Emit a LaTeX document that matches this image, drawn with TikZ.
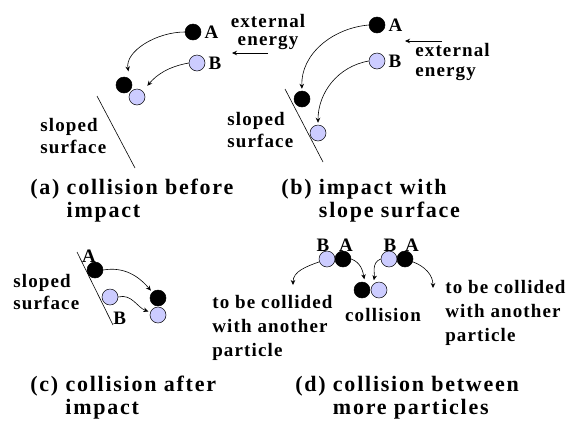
\documentclass[tikz,border=0pt]{standalone}
\usepackage{fontspec}
\setmainfont{Liberation Serif}[LetterSpace=8]
\newfontfamily\lblfont{Liberation Serif}[LetterSpace=6]
\usetikzlibrary{arrows.meta}
\definecolor{ballblue}{RGB}{204,204,255}

\begin{document}
\begin{tikzpicture}[x=1pt, y=1pt, line width=0.6pt,
  ball/.style={circle, draw=black, line width=0.5pt, inner sep=0pt, minimum size=16pt},
  ballA/.style={ball, fill=black},
  ballB/.style={ball, fill=ballblue},
  lbl/.style={font=\lblfont\fontsize{19}{22}\selectfont\bfseries, inner sep=0pt},
  captxt/.style={font=\fontsize{22}{23}\selectfont\bfseries, inner sep=0pt, anchor=base west},
  mv/.style={-{Stealth[length=5pt,width=4.5pt]}, shorten >=2pt},
]
  \useasboundingbox (0,0) rectangle (569,-421);

  % (a) 碰撞前
  \node[ballA] (a-A)  at (193,-32) {};
  \node[ballB] (a-B)  at (197,-63) {};
  \node[ballA] (a-A2) at (124,-85) {};
  \node[ballB] (a-B2) at (137,-97) {};
  \node[lbl, anchor=west] (a-lA) at ([xshift=3pt]a-A.east) {A};
  \node[lbl, anchor=west] (a-lB) at ([xshift=3pt]a-B.east) {B};
  \coordinate (a-s1) at (97,-96);
  \coordinate (a-s2) at (135,-168);
  \draw (a-s1) -- (a-s2);
  \node[lbl, align=left, anchor=west] (a-sl) at (40,-136.5) {sloped\\surface};
  \node[lbl, align=center] (a-ext) at (268,-32) {external\\[-4pt]energy};
  \coordinate (a-e1) at (268,-53);
  \coordinate (a-e2) at (232,-53);
  \draw[mv, shorten >=0pt] (a-e1) -- (a-e2);
  \draw[mv, shorten >=8pt] (a-A.west) to[out=180, in=100] (a-A2.north east);
  \draw[mv, shorten >=7pt] (a-B.west) to[out=190, in=50] (a-B2.north east);
  \node[captxt] (a-cap) at (30,-194)
    {(a) \begin{tabular}[t]{@{}l@{}}collision before\\impact\end{tabular}};

  % (b) 撞击斜面
  \node[ballA] (b-A)  at (377,-25) {};
  \node[ballB] (b-B)  at (377,-61) {};
  \node[ballA] (b-A2) at (302,-99) {};
  \node[ballB] (b-B2) at (318,-133) {};
  \node[lbl, anchor=west] (b-lA) at ([xshift=3pt]b-A.east) {A};
  \node[lbl, anchor=west] (b-lB) at ([xshift=3pt]b-B.east) {B};
  \coordinate (b-s1) at (285,-89);
  \coordinate (b-s2) at (323,-162);
  \draw (b-s1) -- (b-s2);
  \node[lbl, align=left, anchor=west] (b-sl) at (227,-130) {sloped\\surface};
  \node[lbl, align=left, anchor=west] (b-ext) at (415,-62) {external\\[-2pt]energy};
  \coordinate (b-e1) at (442,-41);
  \coordinate (b-e2) at (405,-41);
  \draw[mv, shorten >=0pt] (b-e1) -- (b-e2);
  \draw[mv] (b-A.west) to[out=185, in=92] (b-A2.north);
  \draw[mv] (b-B.west) to[out=190, in=90] (b-B2.north);
  \node[captxt] (b-cap) at (281,-194)
    {(b) \begin{tabular}[t]{@{}l@{}}impact with\\slope surface\end{tabular}};

  % (c) 撞击后碰撞
  \node[ballA] (c-A)  at (95,-270) {};
  \node[ballB] (c-B)  at (110,-297) {};
  \node[ballA] (c-A2) at (158,-298) {};
  \node[ballB] (c-B2) at (158,-315) {};
  \node[lbl, anchor=south] (c-lA) at ([xshift=-6pt,yshift=-1pt]c-A.north) {A};
  \node[lbl, anchor=west] (c-lB) at (113,-318) {B};
  \coordinate (c-s1) at (77,-252);
  \coordinate (c-s2) at (113,-325);
  \draw (c-s1) -- (c-s2);
  \node[lbl, align=left, anchor=west] (c-sl) at (13,-292.5) {sloped\\surface};
  \draw[mv] (c-A.east) to[out=10, in=130] (c-A2.north west);
  \draw[mv] (c-B.east) to[out=15, in=160] (c-B2.160);
  \node[captxt] (c-cap) at (30,-391)
    {(c) \begin{tabular}[t]{@{}l@{}}collision after\\impact\end{tabular}};

  % (d) 多粒子碰撞
  \node[ballB] (d-B1) at (327,-259) {};
  \node[ballA] (d-A1) at (343,-259) {};
  \node[ballB] (d-B2) at (389,-259) {};
  \node[ballA] (d-A2) at (405,-259) {};
  \node[ballA] (d-A3) at (362,-290) {};
  \node[ballB] (d-B3) at (379,-290) {};
  \node[lbl, anchor=south] (d-lB1) at ([xshift=-4pt,yshift=-1pt]d-B1.north) {B};
  \node[lbl, anchor=south] (d-lA1) at ([xshift=3pt,yshift=-1pt]d-A1.north) {A};
  \node[lbl, anchor=south] (d-lB2) at ([xshift=1pt,yshift=-1pt]d-B2.north) {B};
  \node[lbl, anchor=south] (d-lA2) at ([xshift=7pt,yshift=-1pt]d-A2.north) {A};
  \node[lbl] (d-col) at (383,-315) {collision};
  \node[lbl, align=left, anchor=west] (d-tl) at (212,-327.5)
    {to be collided\\[2pt]with another\\[2pt]particle};
  \node[lbl, align=left, anchor=west] (d-tr) at (445,-312.5)
    {to be collided\\[2pt]with another\\[2pt]particle};
  \coordinate (d-l) at (293,-285);
  \coordinate (d-r) at (433,-288);
  \draw[mv, shorten >=0pt] (d-B1.200) to[out=200, in=90] (d-l);
  \draw[mv, shorten >=0pt] (d-A2.-20) to[out=-20, in=90] (d-r);
  \draw[mv, shorten >=3pt] (d-A1.east) to[out=-20, in=100] (d-A3.70);
  \draw[mv, shorten >=4pt] (d-B2.west) to[out=200, in=80] (d-B3.135);
  \node[captxt] (d-cap) at (295,-391)
    {(d) \begin{tabular}[t]{@{}l@{}}collision between\\more particles\end{tabular}};
\end{tikzpicture}
\end{document}
